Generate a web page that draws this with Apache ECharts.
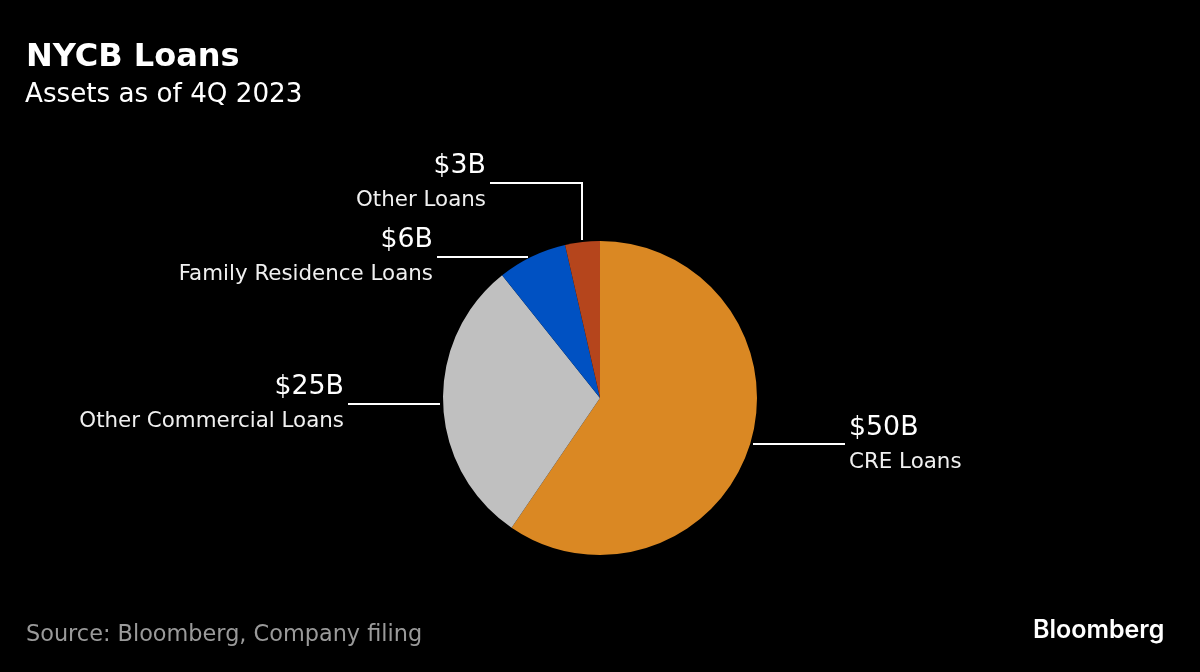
<!DOCTYPE html>
<html>
<head>
<meta charset="utf-8">
<style>
  html, body { margin: 0; padding: 0; background: #000; }
  #chart { width: 1200px; height: 672px; }
</style>
<script src="https://cdn.jsdelivr.net/npm/echarts@6/dist/echarts.min.js"></script>
</head>
<body>
<div id="chart"></div>
<script>
// data, in $B, clockwise from 12 o'clock
const categories = ['CRE Loans', 'Other Commercial Loans', 'Family Residence Loans', 'Other Loans'];
const values = [50, 25, 6, 3];
const amounts = ['$50B', '$25B', '$6B', '$3B'];
const colors = ['#da8823', '#c0c0c0', '#0051c2', '#b5451c'];

// where each label sits and its leader line (annotation layout, not data)
const labelAnchors = [
  { x: 849, y: 409, align: 'left' },
  { x: 344, y: 368, align: 'right' },
  { x: 433, y: 221, align: 'right' },
  { x: 486, y: 147, align: 'right' }
];
const leaders = [
  [[753, 444], [845, 444]],
  [[348, 404], [440, 404]],
  [[437, 257], [528, 257]],
  [[490, 183], [582, 183], [582, 240]]
];

const FONT = '"DejaVu Sans", Verdana, sans-serif';
const chart = echarts.init(document.getElementById('chart'));

chart.setOption({
  backgroundColor: '#000',
  animation: false,
  title: [
    { text: 'NYCB Loans', left: 26, top: 42, padding: 0, textStyle: { color: '#fff', fontFamily: FONT, fontSize: 32, fontWeight: 'bold' } },
    { text: 'Assets as of 4Q 2023', left: 25, top: 82, padding: 0, textStyle: { color: '#fff', fontFamily: FONT, fontSize: 26.2, fontWeight: 'normal' } },
    { text: 'Source: Bloomberg, Company filing', left: 26, top: 624, padding: 0, textStyle: { color: '#9a9a9a', fontFamily: FONT, fontSize: 22.4, fontWeight: 'normal' } },
    { text: 'Bloomberg', left: 1033, top: 618, padding: 0, textStyle: { color: '#fff', fontFamily: '"Inter", sans-serif', fontSize: 25, fontWeight: 600 } }
  ],
  series: [{
    type: 'pie',
    center: [600, 398],
    radius: [0, 157],
    startAngle: 90,
    clockwise: true,
    silent: true,
    itemStyle: { borderWidth: 0 },
    labelLine: { show: false },
    label: {
      show: true,
      position: 'outside',
      formatter: p => '{amt|' + amounts[p.dataIndex] + '}\n{name|' + p.name + '}',
      rich: {
        amt: { color: '#fff', fontFamily: FONT, fontSize: 26.8, lineHeight: 38 },
        name: { color: '#f0f0f0', fontFamily: FONT, fontSize: 21.4, lineHeight: 30 }
      }
    },
    labelLayout: p => {
      const a = labelAnchors[p.dataIndex];
      return { x: a.x, y: a.y, align: a.align, verticalAlign: 'top' };
    },
    data: categories.map((name, i) => ({
      name,
      value: values[i],
      itemStyle: { color: colors[i] },
      label: { align: labelAnchors[i].align }
    }))
  }],
  graphic: leaders.map(points => ({
    type: 'polyline',
    silent: true,
    shape: { points },
    style: { stroke: '#fff', lineWidth: 2, fill: null }
  }))
});
</script>
</body>
</html>
